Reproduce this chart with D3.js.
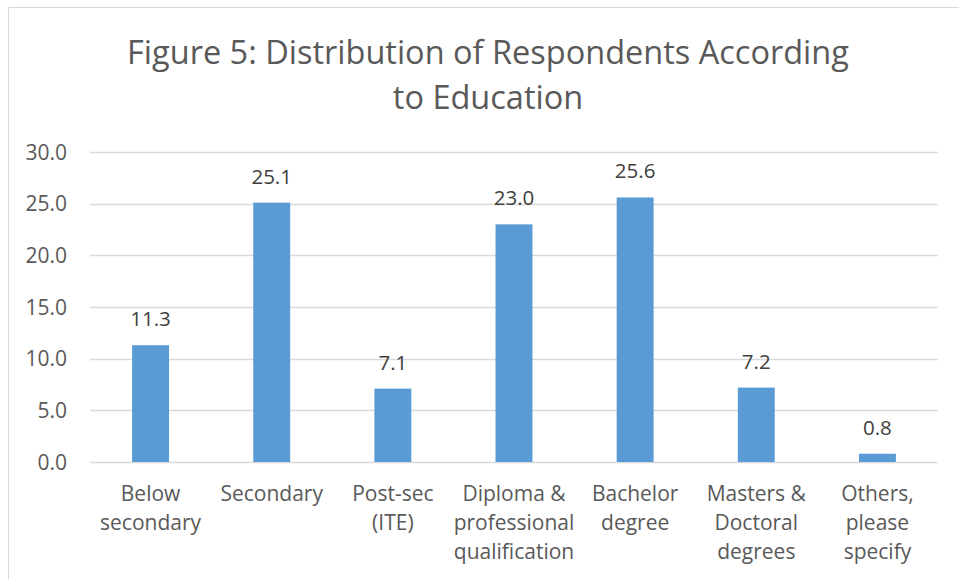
<!DOCTYPE html>
<html><head><meta charset="utf-8">
<script src="https://cdn.jsdelivr.net/npm/d3@7"></script>
<style>body{margin:0;background:#fff;} svg{display:block;}</style>
</head><body>
<script>
const categories = [["Below","secondary"],["Secondary"],["Post-sec","(ITE)"],["Diploma &","professional","qualification"],["Bachelor","degree"],["Masters &","Doctoral","degrees"],["Others,","please","specify"]];
const values = [11.3, 25.1, 7.1, 23.0, 25.6, 7.2, 0.8];
const yTicks = [0, 5, 10, 15, 20, 25, 30];
const titleLines = ["Figure 5: Distribution of Respondents According", "to Education"];

const W = 959, H = 579;
const font = "'Open Sans', sans-serif";
const svg = d3.select("body").append("svg").attr("width", W).attr("height", H);
svg.append("rect").attr("width", W).attr("height", H).attr("fill", "#fff");
svg.append("path").attr("d", "M8.5,579 V7.5 H959").attr("fill","none").attr("stroke","#d9d9d9").attr("stroke-width",1);

const x = d3.scaleBand().domain(d3.range(categories.length)).range([90, 938]);
const y = d3.scaleLinear().domain([0, 30]).range([462, 152]);
const barW = x.bandwidth() * 0.305;

const g = svg.append("g");
g.selectAll("line.grid").data(yTicks).join("line").attr("class","grid")
  .attr("x1", 90).attr("x2", 938).attr("y1", d => Math.round(y(d)) + 0.5).attr("y2", d => Math.round(y(d)) + 0.5)
  .attr("stroke", "#d9d9d9").attr("stroke-width", 1.3);

g.selectAll("text.tick").data(yTicks).join("text").attr("class","tick")
  .attr("x", 67).attr("y", d => y(d)).attr("dy", "0.36em").attr("text-anchor","end")
  .attr("font-family", font).attr("font-size", 21).attr("fill", "#595959")
  .text(d => d3.format(".1f")(d));

g.selectAll("rect.bar").data(values).join("rect").attr("class","bar")
  .attr("x", (d,i) => x(i) + x.bandwidth()/2 - barW/2).attr("width", barW)
  .attr("y", d => y(d)).attr("height", d => y(0) - y(d)).attr("fill", "#5b9bd5");

g.selectAll("text.val").data(values).join("text").attr("class","val")
  .attr("x", (d,i) => x(i) + x.bandwidth()/2).attr("y", d => y(d) - 19)
  .attr("text-anchor","middle").attr("font-family", font).attr("font-size", 20.5).attr("fill", "#404040")
  .text(d => d3.format(".1f")(d));

categories.forEach((lines, i) => {
  const t = g.append("text").attr("text-anchor","middle").attr("font-family", font).attr("font-size", 21).attr("fill", "#595959");
  lines.forEach((l, j) => t.append("tspan").attr("x", x(i) + x.bandwidth()/2).attr("y", 501 + j*29).text(l));
});

const tt = svg.append("text").attr("text-anchor","middle").attr("font-family", font).attr("font-size", 32.5).attr("fill", "#595959");
titleLines.forEach((l, j) => tt.append("tspan").attr("x", 488).attr("y", 63.5 + j*45).text(l));
</script>
</body></html>
